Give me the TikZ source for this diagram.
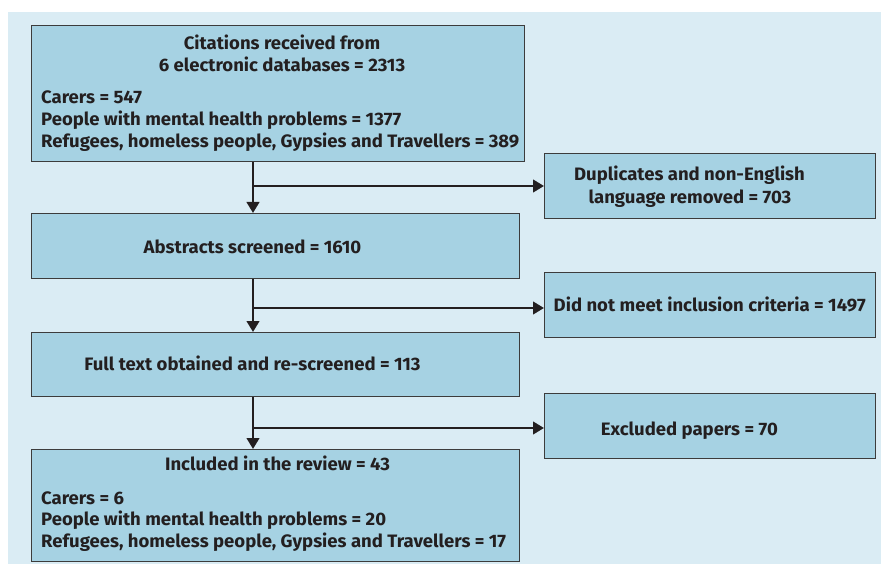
\documentclass[tikz,border=0pt]{standalone}
\usepackage{fontspec}
\setmainfont{Fira Sans}[FakeStretch=1.03]
\usetikzlibrary{arrows.meta}
\definecolor{panel}{HTML}{DAECF4}
\definecolor{boxfill}{HTML}{A6D2E3}
\definecolor{boxline}{HTML}{3C3C3C}
\definecolor{ink}{HTML}{231F20}
\tikzset{
  flowbox/.style={draw=boxline, line width=1.2pt, fill=boxfill, rectangle, inner sep=0pt, anchor=north west},
  txt/.style={inner sep=0pt, text=ink, font=\fontsize{18}{21}\selectfont\bfseries},
  tc/.style={txt, anchor=base},
  tl/.style={txt, anchor=base west},
  flow/.style={draw=ink, line width=2.6pt, -{Triangle[length=11pt,width=12.5pt]}},
}
\begin{document}
\begin{tikzpicture}[x={(1pt,0)}, y={(0,-1pt)}]
\useasboundingbox (0,0) rectangle (881,564);
\fill[white] (0,0) rectangle (881,564);
\fill[panel] (7.5,12) rectangle (881,564);
% main boxes
\node[flowbox, minimum width=493pt, minimum height=136pt] (b1) at (31,25) {};
\node[flowbox, minimum width=488pt, minimum height=65pt] (b2) at (31,213) {};
\node[flowbox, minimum width=488pt, minimum height=64pt] (b3) at (31,332) {};
\node[flowbox, minimum width=488pt, minimum height=112pt] (b4) at (31,449) {};
% side boxes
\node[flowbox, minimum width=331pt, minimum height=65pt] (r1) at (544,153) {};
\node[flowbox, minimum width=331pt, minimum height=65pt] (r2) at (544,272) {};
\node[flowbox, minimum width=331pt, minimum height=65pt] (r3) at (544,393) {};
% texts box 1
\node[tc] (t1a) at (282,50) {Citations received from};
\node[tc] (t1b) at (282,71.5) {6 electronic databases = 2313};
\node[tl] (t1c) at (41,104) {Carers = 547};
\node[tl] (t1d) at (41,126) {People with mental health problems = 1377};
\node[tl] (t1e) at (41,148) {Refugees, homeless people, Gypsies and Travellers = 389};
% box 2, 3
\node[tc] (t2) at (252.5,254) {Abstracts screened = 1610};
\node[tc] (t3) at (252.5,370.5) {Full text obtained and re-screened = 113};
% box 4
\node[tc] (t4a) at (277.5,470.5) {Included in the review = 43};
\node[tl] (t4b) at (41,504) {Carers = 6};
\node[tl] (t4c) at (41,525.7) {People with mental health problems = 20};
\node[tl] (t4d) at (41,547) {Refugees, homeless people, Gypsies and Travellers = 17};
% side texts
\node[tc] (s1a) at (689.5,180.7) {Duplicates and non-English};
\node[tc] (s1b) at (690,203.3) {language removed = 703};
\node[tc] (s2) at (709.7,311.7) {Did not meet inclusion criteria = 1497};
\node[tc] (s3) at (689.3,435) {Excluded papers = 70};
% connectors
\coordinate (c1) at (253,186);
\coordinate (c2) at (253,308);
\coordinate (c3) at (253,428);
\draw[flow] (b1.south -| c1) -- (b2.north -| c1);
\draw[flow] (b2.south -| c2) -- (b3.north -| c2);
\draw[flow] (b3.south -| c3) -- (b4.north -| c3);
\draw[flow] (c1) -- (r1.west |- c1);
\draw[flow] (c2) -- (r2.west |- c2);
\draw[flow] (c3) -- (r3.west |- c3);
\end{tikzpicture}
\end{document}
